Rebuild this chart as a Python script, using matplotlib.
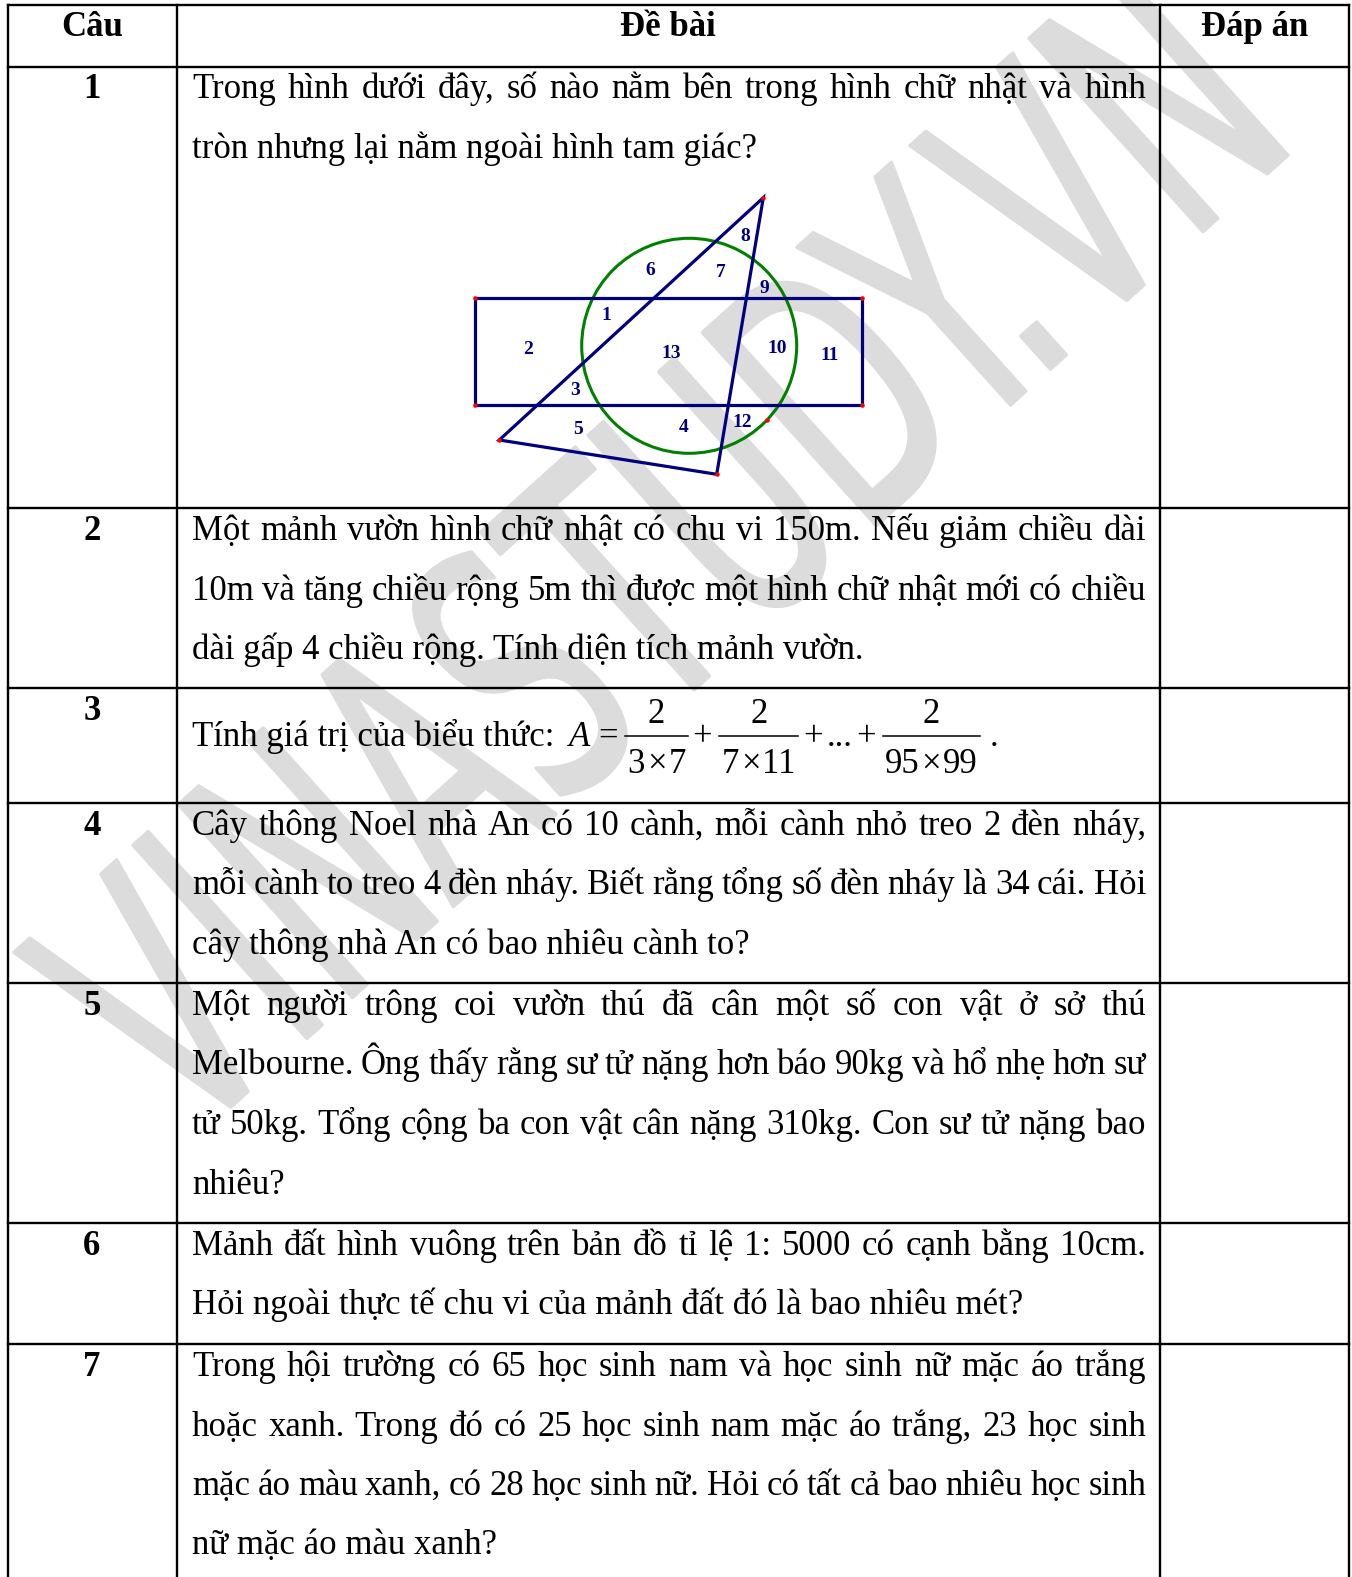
import matplotlib
matplotlib.use('Agg')
import matplotlib.pyplot as plt
from matplotlib.patches import Circle, Polygon, PathPatch
from matplotlib.textpath import TextPath
from matplotlib.font_manager import FontProperties
from matplotlib.transforms import Affine2D

W, H = 1352, 1577

# khung bảng (pixel)
col_x = [7.5, 176.5, 1160, 1349]
row_y = [5, 66.5, 508, 688, 803, 983, 1223, 1344]

headers = ['Câu', 'Đề bài', 'Đáp án']
numbers = ['1', '2', '3', '4', '5', '6', '7']
questions = [
    ['Trong hình dưới đây, số nào nằm bên trong hình chữ nhật và hình',
     'tròn nhưng lại nằm ngoài hình tam giác?'],
    ['Một mảnh vườn hình chữ nhật có chu vi 150m. Nếu giảm chiều dài',
     '10m và tăng chiều rộng 5m thì được một hình chữ nhật mới có chiều',
     'dài gấp 4 chiều rộng. Tính diện tích mảnh vườn.'],
    None,
    ['Cây thông Noel nhà An có 10 cành, mỗi cành nhỏ treo 2 đèn nháy,',
     'mỗi cành to treo 4 đèn nháy. Biết rằng tổng số đèn nháy là 34 cái. Hỏi',
     'cây thông nhà An có bao nhiêu cành to?'],
    ['Một người trông coi vườn thú đã cân một số con vật ở sở thú',
     'Melbourne. Ông thấy rằng sư tử nặng hơn báo 90kg và hổ nhẹ hơn sư',
     'tử 50kg. Tổng cộng ba con vật cân nặng 310kg. Con sư tử nặng bao',
     'nhiêu?'],
    ['Mảnh đất hình vuông trên bản đồ tỉ lệ 1: 5000 có cạnh bằng 10cm.',
     'Hỏi ngoài thực tế chu vi của mảnh đất đó là bao nhiêu mét?'],
    ['Trong hội trường có 65 học sinh nam và học sinh nữ mặc áo trắng',
     'hoặc xanh. Trong đó có 25 học sinh nam mặc áo trắng, 23 học sinh',
     'mặc áo màu xanh, có 28 học sinh nữ. Hỏi có tất cả bao nhiêu học sinh',
     'nữ mặc áo màu xanh?'],
]
formula_prefix = 'Tính giá trị của biểu thức:'
fractions = [('2', ['3', '×', '7']), ('2', ['7', '×', '11']), ('2', ['95', '×', '99'])]

# hình vẽ câu 1
rect_xy = [(475, 297.7), (861.7, 297.7), (861.7, 405), (475, 405)]
circ_c, circ_r = (689.2, 345.8), 107.5
tri_xy = [(763.3, 197.7), (499.3, 440), (716.7, 474.3)]
fig_labels = ['1', '2', '3', '4', '5', '6', '7', '8', '9', '10', '11', '12', '13']
fig_label_xy = [(606.7, 315.7), (528.3, 349), (575, 390.7), (684, 427.3), (578.3, 430),
                (650.7, 270.7), (721, 272.3), (745.7, 236.7), (764, 288.3), (776.7, 348.3),
                (830, 355.7), (742.7, 422.3), (670.7, 354)]
red_pts = rect_xy + tri_xy + [(766.7, 420)]

FONT = 'Liberation Serif'
FS = 25
LINE = 59.5
BASE_OFF = 32
TX0, TX1 = 192, 1146
NAVY = '#00007f'

fig = plt.figure(figsize=(W / 100, H / 100), dpi=100)
ax = fig.add_axes([0, 0, 1, 1])
ax.set_xlim(0, W)
ax.set_ylim(H, 0)
ax.axis('off')
r = fig.canvas.get_renderer()

# watermark
wm_text = 'VINASTUDY.VN'
wm_angle = 42
wm_center = (652, 555)
wm_len, wm_cap = 1480, 260
tp = TextPath((0, 0), wm_text, size=1, prop=FontProperties(family='DejaVu Sans'))
ext = tp.get_extents()
tr = (Affine2D().translate(-(ext.x0 + ext.width / 2), -0.36)
      .scale(wm_len / ext.width, -wm_cap / 0.729)
      .rotate_deg(-wm_angle).translate(*wm_center))
ax.add_patch(PathPatch(tr.transform_path(tp), fc='#dcdcdc', ec='#dcdcdc', lw=2.5,
                       joinstyle='round', capstyle='round', zorder=0))

# lưới bảng
for y in row_y:
    ax.plot([col_x[0], col_x[-1]], [y, y], color='black', lw=1.7, zorder=3)
for x in col_x:
    ax.plot([x, x], [row_y[0], H], color='black', lw=1.7, zorder=3)


def width(t):
    return t.get_window_extent(r).width


def put(x, y, s, **kw):
    return ax.text(x, y, s, ha='left', va='baseline', family=FONT, fontsize=FS, zorder=4, **kw)


def line(y, s, justify):
    if not justify:
        put(TX0, y, s)
        return
    words = s.split(' ')
    objs = [put(0, y, w) for w in words]
    ws = [width(o) for o in objs]
    gap = (TX1 - TX0 - sum(ws)) / (len(words) - 1)
    x = TX0
    for o, w in zip(objs, ws):
        o.set_x(x)
        x += w + gap


for i, h in enumerate(headers):
    ax.text((col_x[i] + col_x[i + 1]) / 2, row_y[0] + 31, h, ha='center', va='baseline',
            family=FONT, fontsize=FS, fontweight='bold', zorder=4)

for i, n in enumerate(numbers):
    top = row_y[i + 1]
    ax.text((col_x[0] + col_x[1]) / 2, top + BASE_OFF, n, ha='center', va='baseline',
            family=FONT, fontsize=FS, fontweight='bold', zorder=4)
    q = questions[i]
    if q is None:
        continue
    for k, s in enumerate(q):
        line(top + BASE_OFF + k * LINE, s, k < len(q) - 1)

# câu 3: công thức
yb = row_y[3] + 58
ybar = yb - 10
x = TX0
t = put(x, yb, formula_prefix)
x += width(t) + 14
t = put(x, yb, 'A', style='italic')
x += width(t) + 8
t = put(x, yb, '=')
x += width(t) + 8
for j, (num, den) in enumerate(fractions):
    dens = [put(0, ybar + 37, p) for p in den]
    dws = [width(o) for o in dens]
    dw = sum(dws) + 2 * (len(den) - 1)
    nt = put(0, ybar - 13, num)
    bw = max(dw, width(nt)) + 4
    ax.plot([x, x + bw], [ybar, ybar], color='black', lw=1.1, zorder=4)
    nt.set_x(x + (bw - width(nt)) / 2)
    dx = x + (bw - dw) / 2
    for o, w in zip(dens, dws):
        o.set_x(dx)
        dx += w + 2
    x += bw + 5
    if j == 0:
        t = put(x, yb, '+')
        x += width(t) + 7
    elif j == 1:
        for p in ['+', '...', '+']:
            t = put(x, yb, p)
            x += width(t) + 4
        x += 3
put(x + 5, yb, '.')

# hình vẽ
ax.add_patch(Circle(circ_c, circ_r, fill=False, ec='#008000', lw=2.2, zorder=5))
ax.add_patch(Polygon(rect_xy, closed=True, fill=False, ec=NAVY, lw=2.3, zorder=6))
ax.add_patch(Polygon(tri_xy, closed=True, fill=False, ec=NAVY, lw=2.3, zorder=6,
                     joinstyle='miter'))
ax.scatter([p[0] for p in red_pts], [p[1] for p in red_pts], s=5, color='red', zorder=7)
for lab, (lx, ly) in zip(fig_labels, fig_label_xy):
    ax.text(lx, ly, lab, ha='center', va='center', family=FONT, fontsize=14,
            fontweight='bold', color=NAVY, zorder=7)

fig.savefig('out.png', dpi=100)
